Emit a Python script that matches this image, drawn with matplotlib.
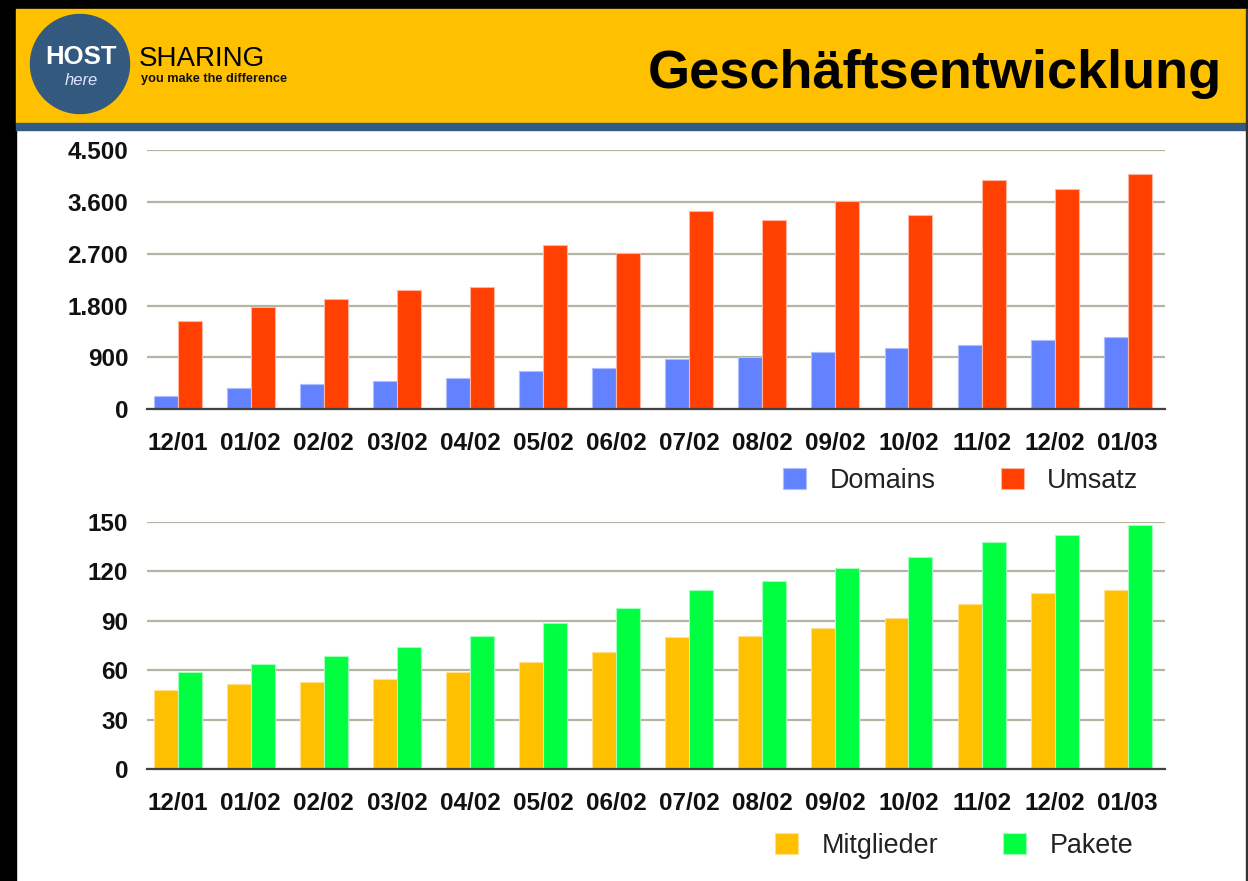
import numpy as np
import matplotlib
matplotlib.use('Agg')
import matplotlib.pyplot as plt
from matplotlib.patches import Rectangle, Circle

plt.rcParams['font.family'] = ['Liberation Sans', 'DejaVu Sans']

# data
months = ['12/01', '01/02', '02/02', '03/02', '04/02', '05/02', '06/02',
          '07/02', '08/02', '09/02', '10/02', '11/02', '12/02', '01/03']
domains = [230, 375, 435, 495, 540, 660, 715, 875, 915, 995, 1060, 1110, 1195, 1255]
umsatz = [1530, 1775, 1910, 2070, 2115, 2850, 2710, 3435, 3280, 3610, 3370, 3975, 3815, 4080]
mitglieder = [48, 52, 53, 55, 59, 65, 71, 80, 81, 86, 92, 100, 107, 109]
pakete = [59, 64, 69, 74, 81, 89, 98, 109, 114, 122, 129, 138, 142, 148]

top_ticks = [0, 900, 1800, 2700, 3600, 4500]
top_ticklabels = ['0', '900', '1.800', '2.700', '3.600', '4.500']
bottom_ticks = [0, 30, 60, 90, 120, 150]
bottom_ticklabels = ['0', '30', '60', '90', '120', '150']

W, H = 1248, 881
fig = plt.figure(figsize=(W / 100, H / 100), dpi=100)


def px_rect(x0, y0, x1, y1):
    # pixel box (top-left origin) -> figure fraction
    return [x0 / W, 1 - y1 / H, (x1 - x0) / W, (y1 - y0) / H]


# --- slide background / header ---
bg = fig.add_axes([0, 0, 1, 1])
bg.set_xlim(0, W)
bg.set_ylim(H, 0)
bg.axis('off')
bg.add_patch(Rectangle((0, 0), W, 9, color='black'))
bg.add_patch(Rectangle((0, 0), 16, H, color='black'))
bg.add_patch(Rectangle((16, 9), 1230, 113.5, color='#ffc000'))
bg.add_patch(Rectangle((16, 122.5), 1230, 7.5, color='#335a82'))
bg.add_patch(Rectangle((1246, 9), 2, H, color='#333333'))

bg.add_patch(Circle((80, 64), 49.5, color='#34597f'))
bg.text(81, 64.5, 'HOST', ha='center', va='baseline', fontsize=18.5,
        fontweight='bold', color='white')
bg.text(81, 85, 'here', ha='center', va='baseline', fontsize=12,
        style='italic', color='#dfe6ff')
bg.text(139, 65.7, 'SHARING', ha='left', va='baseline', fontsize=20,
        color='black')
bg.text(141, 82, 'you make the difference', ha='left', va='baseline',
        fontsize=9.2, fontweight='bold', color='#111111')
bg.text(1222, 88, 'Geschäftsentwicklung', ha='right', va='baseline',
        fontsize=39, fontweight='bold', color='black')


def draw_panel(ax, a, b, colors, edges, names, ticks, ticklabels):
    x = np.arange(len(months))
    w = 0.328
    h1 = ax.bar(x - w / 2, a, w, color=colors[0], edgecolor=edges[0], linewidth=0.8, label=names[0])
    h2 = ax.bar(x + w / 2, b, w, color=colors[1], edgecolor=edges[1], linewidth=0.8, label=names[1])
    ax.set_xlim(-0.42, len(months) - 0.49)
    ax.set_ylim(0, ticks[-1])
    ax.set_xticks(x)
    ax.set_xticklabels(months, fontweight='bold')
    ax.set_yticks(ticks)
    ax.set_yticklabels(ticklabels, fontweight='bold')
    ax.tick_params(axis='both', length=0, labelsize=17.5, colors='#111111')
    ax.tick_params(axis='x', pad=16)
    ax.tick_params(axis='y', pad=13.5)
    ax.grid(axis='y', color='#b4b4a4', linewidth=1.6)
    ax.set_axisbelow(True)
    for s in ['top', 'right', 'left']:
        ax.spines[s].set_visible(False)
    ax.spines['bottom'].set_color('#404040')
    ax.spines['bottom'].set_linewidth(1.6)
    ax.set_facecolor('none')
    return [h1, h2]


ax1 = fig.add_axes(px_rect(147, 150, 1165, 409.3))
hs = draw_panel(ax1, domains, umsatz, ['#6382ff', '#ff4000'], ['#b0c0ff', '#ffb4a0'],
                ['Domains', 'Umsatz'], top_ticks, top_ticklabels)
fig.legend(hs, ['Domains', 'Umsatz'], loc='center left',
           bbox_to_anchor=(783 / W, 1 - 481 / H), bbox_transform=fig.transFigure,
           ncol=2, frameon=False, fontsize=19.4, handlelength=0.86, handleheight=0.78,
           handletextpad=0.86, columnspacing=2.42, borderpad=0, borderaxespad=0,
           labelcolor='#222222')

ax2 = fig.add_axes(px_rect(147, 522, 1165, 769.3))
hs = draw_panel(ax2, mitglieder, pakete, ['#ffc000', '#00ff40'], ['#ffe090', '#a0ffb8'],
                ['Mitglieder', 'Pakete'], bottom_ticks, bottom_ticklabels)
fig.legend(hs, ['Mitglieder', 'Pakete'], loc='center left',
           bbox_to_anchor=(775 / W, 1 - 846 / H), bbox_transform=fig.transFigure,
           ncol=2, frameon=False, fontsize=19.4, handlelength=0.86, handleheight=0.78,
           handletextpad=0.86, columnspacing=2.42, borderpad=0, borderaxespad=0,
           labelcolor='#222222')

fig.savefig('out.png', dpi=100)
